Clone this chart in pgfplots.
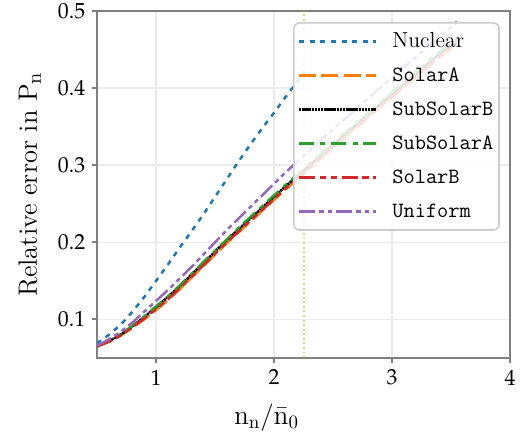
\documentclass[border=0pt]{standalone}
\usepackage{mathpazo}
\usepackage{pgfplots}
\pgfplotsset{compat=1.18}
\definecolor{tabblue}{HTML}{1F77B4}
\definecolor{taborange}{HTML}{FF7F0E}
\definecolor{tabgreen}{HTML}{2CA02C}
\definecolor{tabred}{HTML}{D62728}
\definecolor{tabpurple}{HTML}{9467BD}
\definecolor{tabolive}{HTML}{BCBD22}
\definecolor{axisgray}{HTML}{808080}
\definecolor{gridgray}{HTML}{EBEBEB}
\definecolor{legendgray}{HTML}{CCCCCC}

\pgfplotstableread{
x y
0.50 0.069
0.60 0.080
0.70 0.093
0.80 0.110
0.90 0.129
1.00 0.150
1.10 0.171
1.20 0.193
1.30 0.214
1.40 0.236
1.50 0.259
1.60 0.282
1.70 0.305
1.80 0.327
1.90 0.348
2.00 0.368
2.10 0.389
2.20 0.409
2.26 0.421
}\nuclear

\pgfplotstableread{
x y
0.50 0.065
0.60 0.071
0.70 0.079
0.80 0.089
0.90 0.100
1.00 0.112
1.10 0.125
1.20 0.139
1.30 0.154
1.40 0.169
1.50 0.184
1.60 0.199
1.70 0.213
1.80 0.227
1.90 0.241
2.00 0.255
2.10 0.269
2.20 0.282
2.40 0.309
2.60 0.336
2.80 0.362
3.00 0.388
3.20 0.414
3.40 0.439
3.55 0.457
}\solarA

\pgfplotstableread{
x y
0.50 0.065
0.60 0.072
0.70 0.080
0.80 0.091
0.90 0.103
1.00 0.116
1.10 0.129
1.20 0.143
1.30 0.158
1.40 0.173
1.50 0.188
1.60 0.203
1.70 0.217
1.80 0.231
1.90 0.245
2.00 0.259
2.10 0.273
2.20 0.286
2.40 0.313
2.60 0.340
2.80 0.366
3.00 0.392
3.20 0.418
3.40 0.444
3.55 0.461
}\subsolarB

\pgfplotstableread{
x y
0.50 0.065
0.60 0.072
0.70 0.081
0.80 0.092
0.90 0.104
1.00 0.117
1.10 0.130
1.20 0.144
1.30 0.159
1.40 0.174
1.50 0.189
1.60 0.204
1.70 0.219
1.80 0.233
1.90 0.247
2.00 0.261
2.10 0.275
2.20 0.288
2.40 0.315
2.60 0.342
2.80 0.368
3.00 0.395
3.20 0.421
3.40 0.447
3.55 0.464
}\subsolarA

\pgfplotstableread{
x y
0.50 0.065
0.60 0.071
0.70 0.079
0.80 0.090
0.90 0.101
1.00 0.113
1.10 0.126
1.20 0.140
1.30 0.155
1.40 0.170
1.50 0.185
1.60 0.200
1.70 0.214
1.80 0.228
1.90 0.242
2.00 0.256
2.10 0.270
2.20 0.283
2.40 0.310
2.60 0.337
2.80 0.363
3.00 0.389
3.20 0.415
3.40 0.441
3.55 0.459
}\solarB

\pgfplotstableread{
x y
0.50 0.066
0.60 0.074
0.70 0.084
0.80 0.096
0.90 0.110
1.00 0.124
1.10 0.138
1.20 0.153
1.30 0.168
1.40 0.184
1.50 0.200
1.60 0.216
1.70 0.231
1.80 0.246
1.90 0.261
2.00 0.276
2.10 0.291
2.20 0.305
2.40 0.333
2.60 0.360
2.80 0.387
3.00 0.414
3.20 0.440
3.40 0.466
3.55 0.486
}\uniform

\begin{document}
\begin{tikzpicture}
\useasboundingbox (-51.05bp,-43.7bp) rectangle (228.4bp,188.4bp);
\begin{axis}[
  name=ax,
  at={(0,0)}, anchor=south west,
  width=217.4bp, height=182.6bp, scale only axis,
  xmin=0.5, xmax=4, ymin=0.05, ymax=0.5,
  xtick={1,2,3,4}, ytick={0.1,0.2,0.3,0.4,0.5},
  yticklabel style={/pgf/number format/fixed,/pgf/number format/precision=1},
  tick pos=left,
  axis line style={draw=axisgray, line width=1.4bp},
  grid=major, major grid style={draw=gridgray, line width=0.8bp},
  tick align=outside, major tick length=2.7bp,
  tick style={draw=axisgray, line width=1bp},
  ticklabel style={font=\fontsize{11.5}{13}\selectfont},
  every axis plot/.append style={line width=1.3bp},
  legend image code/.code={\draw[#1] (0bp,0bp) -- (40.5bp,0bp);},
  legend cell align=left,
  legend style={at={(0.975,0.968)}, anchor=north east,
    draw=legendgray, line width=0.8bp, fill=white, fill opacity=0.85,
    draw opacity=1, text opacity=1, rounded corners=3bp,
    font=\fontsize{11.5}{13}\selectfont,
    inner xsep=2bp, inner ysep=3.5bp, row sep=5.4bp,
    nodes={inner xsep=1bp, inner ysep=1bp, text height=8.2bp, text depth=2.3bp},
    /tikz/every odd column/.append style={column sep=7bp}},
]
\addplot[tabolive, opacity=0.6, line width=1.1bp, dash pattern=on 1bp off 1.4bp, forget plot] coordinates {(2.25,0.05) (2.25,0.5)};
\addplot[tabblue, dash pattern=on 2.6bp off 3bp] table[x=x,y=y] {\nuclear};
\addlegendentry{Nuclear}
\addplot[taborange, dash pattern=on 8.8bp off 3bp] table[x=x,y=y] {\solarA};
\addlegendentry{\texttt{SolarA}}
\addplot[black, dash pattern=on 1.3bp off 0.35bp] table[x=x,y=y] {\subsolarB};
\addlegendentry{\texttt{SubSolarB}}
\addplot[tabgreen, dash pattern=on 7.9bp off 3.4bp on 2.6bp off 3bp] table[x=x,y=y] {\subsolarA};
\addlegendentry{\texttt{SubSolarA}}
\addplot[tabred, dash pattern=on 8.4bp off 2.5bp on 3.2bp off 2.6bp on 3.2bp off 2.6bp] table[x=x,y=y] {\solarB};
\addlegendentry{\texttt{SolarB}}
\addplot[tabpurple, dash pattern=on 8.4bp off 2.1bp on 2.4bp off 2.1bp on 2.4bp off 2.1bp] table[x=x,y=y] {\uniform};
\addlegendentry{\texttt{Uniform}}
\end{axis}
\node[anchor=base, inner sep=0pt, font=\fontsize{14.4}{17}\selectfont] at ([xshift=-19.5bp, yshift=-35bp]ax.south) {n\textsubscript{n}/\=n\textsubscript{0}};
\node[anchor=base, rotate=90, inner sep=0pt, font=\fontsize{14}{17}\selectfont] at ([xshift=-31.6bp]ax.west) {Relative error in P\textsubscript{n}};
\end{tikzpicture}
\end{document}
